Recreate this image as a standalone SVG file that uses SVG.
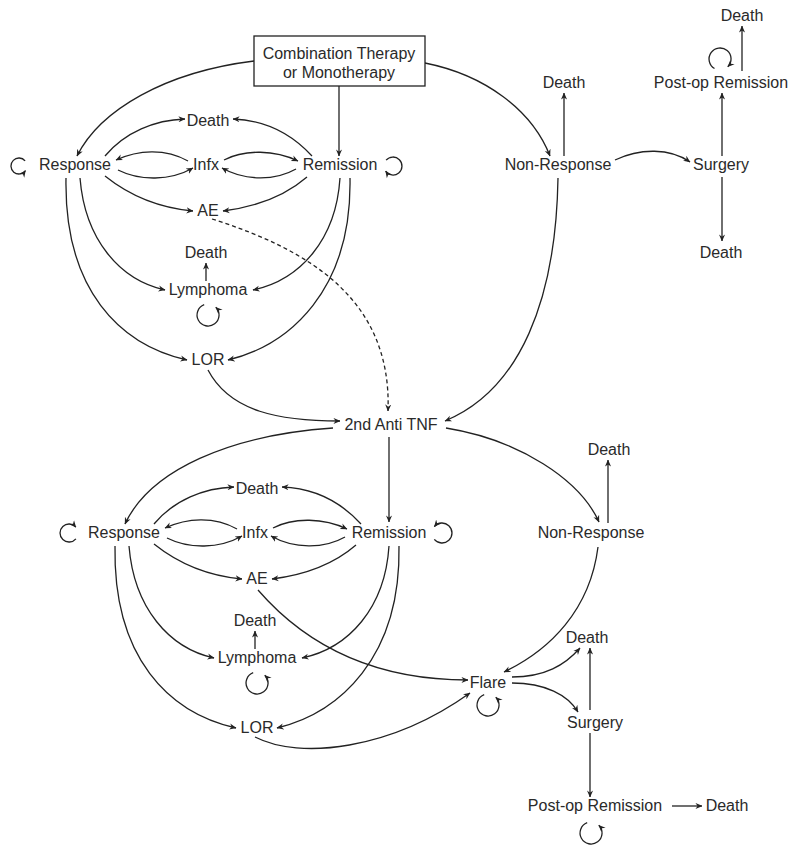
<svg xmlns="http://www.w3.org/2000/svg" width="800" height="856" viewBox="0 0 800 856">
<style>
  text { font-family: "Liberation Sans", Arial, sans-serif; font-size: 16px; fill: #2a2a2a; text-anchor: middle; }
  .e { fill: none; stroke: #222; stroke-width: 1.3; marker-end: url(#ah); }
  .d { stroke-dasharray: 4 3; }
  .box { fill: #fff; stroke: #222; stroke-width: 1.3; }
</style>
<defs>
  <marker id="ah" viewBox="0 0 8 8" refX="7.5" refY="4" markerWidth="7" markerHeight="7" markerUnits="userSpaceOnUse" orient="auto">
    <path d="M0,0.5 L8,4 L0,7.5 L2.5,4 z" fill="#222"/>
  </marker>
</defs>
<rect width="800" height="856" fill="#fff"/>

<g id="connectors">
  <!-- top-level -->
  <path class="e" d="M254,61 C165,72 100,110 77,156"/>
  <path class="e" d="M339,86 L339,156"/>
  <path class="e" d="M425,63 C485,75 532,110 550,156"/>
  <path class="e" d="M564,156 L564,93"/>
  <path class="e" d="M615,160 C640,148 670,148 690,162"/>
  <path class="e" d="M722,156 L722,93"/>
  <path class="e" d="M742,71 L742,26"/>
  <path class="e" d="M722,177 L722,241"/>
  <path class="e d" d="M212,219 C310,250 392,300 388,411"/>
  <path class="e" d="M208,370 C230,412 280,421 340,421"/>
  <path class="e" d="M558,178 C556,300 520,390 445,421"/>
  <path class="e" d="M333,428 C230,435 150,470 125,524"/>
  <path class="e" d="M389,437 L389,522"/>
  <path class="e" d="M446,428 C520,440 580,480 599,522"/>
  <path class="e" d="M608,523 L608,460"/>
  <path class="e" d="M598,547 C590,610 550,650 504,672"/>
  <path class="e" d="M258,590 C310,650 380,680 468,680"/>
  <path class="e" d="M255,737 C300,760 390,750 470,693"/>
  <path class="e" d="M512,677 C545,677 565,665 580,648"/>
  <path class="e" d="M512,683 C545,683 568,695 578,712"/>
  <path class="e" d="M590,710 L590,648"/>
  <path class="e" d="M590,733 L590,797"/>
  <path class="e" d="M672,806 L702,806"/>
  <!-- self loops -->
  <path class="e" d="M25.1,160.9 A8,8 0 1 0 25.5,170.6"/>
  <path class="e" d="M386.1,160.2 A9,9 0 1 1 385.6,171.2"/>
  <path class="e" d="M204.2,304.7 A11,11 0 1 0 215.8,307.2"/>
  <path class="e" d="M714.5,68.5 A11,11 0 1 1 727.8,66.8"/>
  <path class="e" d="M75.9,538.8 A9,9 0 1 1 75.9,527.2"/>
  <path class="e" d="M434.3,539.4 A10,10 0 1 0 434.3,526.6"/>
  <path class="e" d="M484.2,694.7 A11,11 0 1 0 495.8,697.2"/>
  <path class="e" d="M587.2,822.7 A11,11 0 1 0 598.8,825.2"/>
  <!-- top cluster -->
  <g id="cluster-top">
    <path class="e" d="M105,156 C125,132 155,120 185,119"/>
    <path class="e" d="M312,156 C290,132 262,120 233,119"/>
    <path class="e" d="M188,161 C165,148 138,150 116,160"/>
    <path class="e" d="M118,170 C140,181 170,181 193,168"/>
    <path class="e" d="M224,160 C245,149 275,150 298,161"/>
    <path class="e" d="M296,169 C275,181 245,181 222,168"/>
    <path class="e" d="M105,176 C130,196 160,208 193,211"/>
    <path class="e" d="M307,177 C285,196 255,207 223,211"/>
    <path class="e" d="M80,178 C85,240 120,280 165,290"/>
    <path class="e" d="M340,178 C336,240 300,280 253,290"/>
    <path class="e" d="M66,178 C64,290 120,345 187,360"/>
    <path class="e" d="M350,178 C352,290 290,345 228,360"/>
    <path class="e" d="M206,281 L206,263"/>
  </g>
  <g id="cluster-bottom" transform="translate(49,368)">
    <path class="e" d="M105,156 C125,132 155,120 185,119"/>
    <path class="e" d="M312,156 C290,132 262,120 233,119"/>
    <path class="e" d="M188,161 C165,148 138,150 116,160"/>
    <path class="e" d="M118,170 C140,181 170,181 193,168"/>
    <path class="e" d="M224,160 C245,149 275,150 298,161"/>
    <path class="e" d="M296,169 C275,181 245,181 222,168"/>
    <path class="e" d="M105,176 C130,196 160,208 193,211"/>
    <path class="e" d="M307,177 C285,196 255,207 223,211"/>
    <path class="e" d="M80,178 C85,240 120,280 165,290"/>
    <path class="e" d="M340,178 C336,240 300,280 253,290"/>
    <path class="e" d="M66,178 C64,290 120,345 187,360"/>
    <path class="e" d="M350,178 C352,290 290,345 228,360"/>
    <path class="e" d="M206,281 L206,263"/>
    <path class="e" d="M204.2,304.7 A11,11 0 1 0 215.8,307.2"/>
  </g>
</g>

<g id="start"><rect class="box" x="254" y="36" width="171" height="50"/><text x="339" y="59">Combination Therapy</text><text x="339" y="78">or Monotherapy</text></g>
<g id="response1"><text x="75" y="170">Response</text></g>
<g id="infx1"><text x="206" y="170">Infx</text></g>
<g id="remission1"><text x="340" y="170">Remission</text></g>
<g id="death1"><text x="208" y="126">Death</text></g>
<g id="ae1"><text x="208" y="216">AE</text></g>
<g id="death-lymph1"><text x="206" y="258">Death</text></g>
<g id="lymphoma1"><text x="208" y="295">Lymphoma</text></g>
<g id="lor1"><text x="208" y="365">LOR</text></g>
<g id="nonresponse1"><text x="558" y="170">Non-Response</text></g>
<g id="death-nr1"><text x="564" y="88">Death</text></g>
<g id="surgery1"><text x="721" y="170">Surgery</text></g>
<g id="postop1"><text x="721" y="88">Post-op Remission</text></g>
<g id="death-po1"><text x="742" y="21">Death</text></g>
<g id="death-s1"><text x="721" y="258">Death</text></g>
<g id="antitnf2"><text x="391" y="430">2nd Anti TNF</text></g>
<g id="response2"><text x="124" y="538">Response</text></g>
<g id="infx2"><text x="255" y="538">Infx</text></g>
<g id="remission2"><text x="389" y="538">Remission</text></g>
<g id="death2"><text x="257" y="494">Death</text></g>
<g id="ae2"><text x="257" y="584">AE</text></g>
<g id="death-lymph2"><text x="255" y="626">Death</text></g>
<g id="lymphoma2"><text x="257" y="663">Lymphoma</text></g>
<g id="lor2"><text x="257" y="733">LOR</text></g>
<g id="nonresponse2"><text x="591" y="538">Non-Response</text></g>
<g id="death-nr2"><text x="609" y="455">Death</text></g>
<g id="flare"><text x="488" y="688">Flare</text></g>
<g id="death-f"><text x="587" y="643">Death</text></g>
<g id="surgery2"><text x="595" y="728">Surgery</text></g>
<g id="postop2"><text x="595" y="811">Post-op Remission</text></g>
<g id="death-po2"><text x="727" y="811">Death</text></g>
</svg>
